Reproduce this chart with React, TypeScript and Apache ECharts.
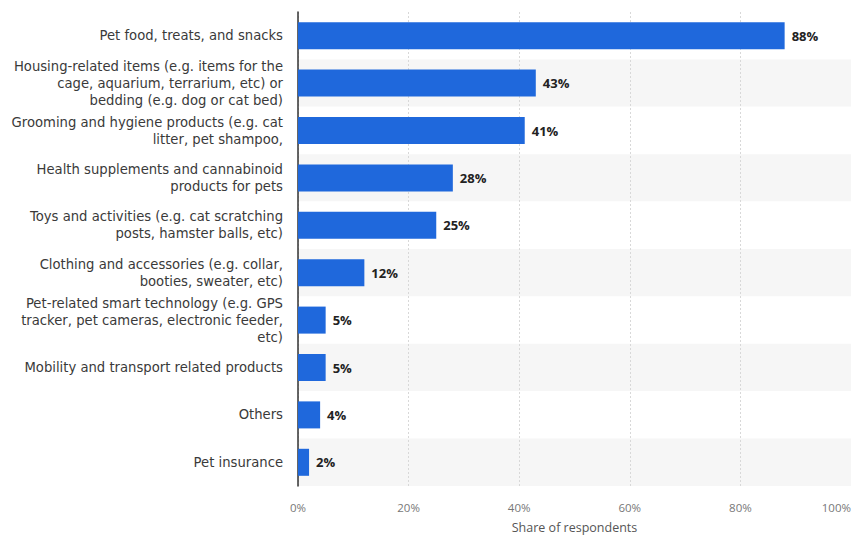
import React, { useEffect, useRef } from "react";
import * as echarts from "echarts";

const categories = [
  "Pet food, treats, and snacks",
  "Housing-related items (e.g. items for the\ncage, aquarium, terrarium, etc) or\nbedding (e.g. dog or cat bed)",
  "Grooming and hygiene products (e.g. cat\nlitter, pet shampoo,",
  "Health supplements and cannabinoid\nproducts for pets",
  "Toys and activities (e.g. cat scratching\nposts, hamster balls, etc)",
  "Clothing and accessories (e.g. collar,\nbooties, sweater, etc)",
  "Pet-related smart technology (e.g. GPS\ntracker, pet cameras, electronic feeder,\netc)",
  "Mobility and transport related products",
  "Others",
  "Pet insurance",
];
const values = [88, 43, 41, 28, 25, 12, 5, 5, 4, 2];
const tickValues = [0, 20, 40, 60, 80, 100];

export default function App() {
  const ref = useRef<HTMLDivElement>(null);
  useEffect(() => {
    if (!ref.current) return;
    const chart = echarts.init(ref.current, undefined, { renderer: "svg" });
    const font = "'Open Sans', 'DejaVu Sans', sans-serif";
    const catFont = "'DejaVu Sans', sans-serif";
    chart.setOption({
      animation: false,
      backgroundColor: "#ffffff",
      grid: {
        left: 298,
        right: 0,
        top: 12,
        bottom: 50,
        containLabel: false,
        outerBoundsMode: "none",
      },
      xAxis: {
        type: "value",
        min: tickValues[0],
        max: tickValues[tickValues.length - 1],
        interval: 20,
        name: "Share of respondents",
        nameLocation: "middle",
        nameGap: 35,
        nameTextStyle: { color: "#555", fontSize: 12.5, fontFamily: font },
        axisLine: { show: false },
        axisTick: { show: false },
        axisLabel: {
          color: "#777",
          fontSize: 11.5,
          fontFamily: font,
          margin: 15,
          alignMaxLabel: "right",
          formatter: (v: number) => v + "%",
        },
        splitLine: { show: true, lineStyle: { color: "#d8d8d8", type: [2, 2], width: 1 } },
      },
      yAxis: {
        type: "category",
        data: categories,
        inverse: true,
        axisLine: { show: true, lineStyle: { color: "#333", width: 1.5 } },
        axisTick: { show: false },
        axisLabel: {
          color: "#3a3a3a",
          fontSize: 13.2,
          lineHeight: 17,
          fontFamily: catFont,
          margin: 15,
          align: "right",
        },
        splitArea: { show: true, areaStyle: { color: ["#ffffff", "#f6f6f6"] } },
      },
      series: [
        {
          type: "bar",
          data: values,
          barWidth: "57%",
          itemStyle: { color: "#1f68dc" },
          label: {
            show: true,
            position: "right",
            distance: 7,
            color: "#222",
            fontSize: 13,
            fontWeight: "bold",
            fontFamily: font,
            formatter: (p: any) => p.value + "%",
          },
        },
      ],
    });
    return () => chart.dispose();
  }, []);
  return <div ref={ref} style={{ width: 851, height: 536, position: "absolute", left: 0, top: 0 }} />;
}
